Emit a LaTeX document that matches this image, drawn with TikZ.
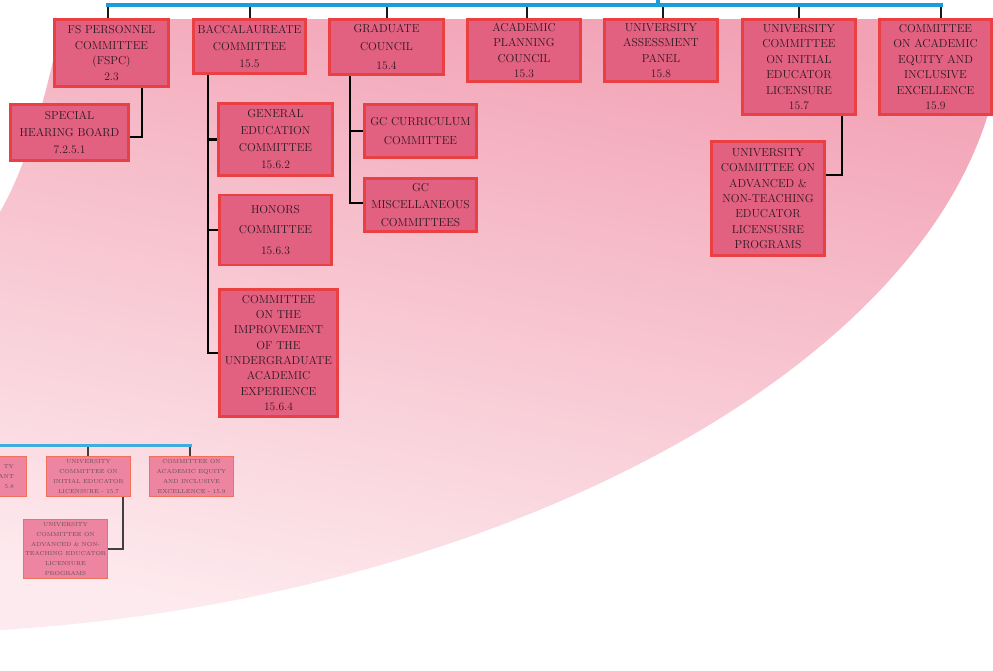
\documentclass[tikz,border=0pt]{standalone}
\usetikzlibrary{calc}

\definecolor{bgdark}{RGB}{242,162,181}
\definecolor{bgmid}{RGB}{245,174,191}
\definecolor{bglight}{RGB}{253,234,238}
\definecolor{boxfill}{RGB}{226,96,128}
\definecolor{boxedge}{RGB}{234,64,68}
\definecolor{boxtext}{RGB}{45,25,35}
\definecolor{busblue}{RGB}{28,157,215}
\definecolor{smallfill}{RGB}{237,132,160}
\definecolor{smalledge}{RGB}{240,112,92}
\definecolor{smalltext}{RGB}{105,78,88}

\begin{document}
\begin{tikzpicture}[x=1pt,y=-1pt,
  unit/.style={draw=boxedge, fill=boxfill, line width=2.6pt, inner sep=0pt,
    align=center, text=boxtext, font=\fontsize{11.5}{15.5}\selectfont},
  lead/.style={font=\fontsize{11.5}{#1}\selectfont},
  minor/.style={draw=smalledge, fill=smallfill, line width=1.6pt, inner sep=0pt,
    align=center, text=smalltext, font=\fontsize{5.8}{9.7}\selectfont,
    minimum width=84pt, minimum height=40pt},
  bus/.style={draw=busblue, line width=4pt, line cap=rect},
  minorbus/.style={draw=busblue!85, line width=3pt, line cap=rect},
  drop/.style={draw=black!90, line width=2pt},
  link/.style={draw=black, line width=2.4pt},
  minorlink/.style={draw=black!75, line width=1.6pt}]

\useasboundingbox (0,0) rectangle (993,670);
\clip (0,0) rectangle (993,670);

% pink backdrop sweeping down to the lower left
\shade[top color=bgdark, middle color=bgmid, bottom color=bglight, shading angle=-12]
  (1000,19) -- (1000,60)
  .. controls (960,360) and (500,600) .. (0,630)
  -- (0,212)
  .. controls (30,160) and (50,80) .. (62,19)
  -- cycle;

% first tier
\node[unit, minimum width=114pt, minimum height=67pt] (fs) at (111.5,53)
  {FS PERSONNEL\\COMMITTEE\\(FSPC)\\2.3};
\node[unit, lead=17, minimum width=112pt, minimum height=54pt] (bacc) at (249.5,46.5)
  {BACCALAUREATE\\COMMITTEE\\15.5};
\node[unit, lead=18.5, minimum width=114pt, minimum height=55pt] (grad) at (386.5,47)
  {GRADUATE\\COUNCIL\\15.4};
\node[unit, lead=15.3, minimum width=113pt, minimum height=62pt] (apc) at (524,50.5)
  {ACADEMIC\\PLANNING\\COUNCIL\\15.3};
\node[unit, lead=15.2, minimum width=113pt, minimum height=62pt] (uap) at (661,50.5)
  {UNIVERSITY\\ASSESSMENT\\PANEL\\15.8};
\node[unit, minimum width=113pt, minimum height=95pt] (uciel) at (799,67)
  {UNIVERSITY\\COMMITTEE\\ON INITIAL\\EDUCATOR\\LICENSURE\\15.7};
\node[unit, minimum width=112pt, minimum height=95pt] (caeie) at (935.5,67)
  {COMMITTEE\\ON ACADEMIC\\EQUITY AND\\INCLUSIVE\\EXCELLENCE\\15.9};

% second tier
\node[unit, lead=17, minimum width=118pt, minimum height=56pt] (shb) at (69.5,132.5)
  {SPECIAL\\HEARING BOARD\\7.2.5.1};
\node[unit, lead=17, minimum width=114pt, minimum height=72pt] (gened) at (275.5,139.5)
  {GENERAL\\EDUCATION\\COMMITTEE\\15.6.2};
\node[unit, lead=20.5, minimum width=112pt, minimum height=70pt] (honors) at (275.5,230)
  {HONORS\\COMMITTEE\\15.6.3};
\node[unit, lead=15.3, minimum width=118pt, minimum height=127pt] (ciuae) at (278.5,353)
  {COMMITTEE\\ON THE\\IMPROVEMENT\\OF THE\\UNDERGRADUATE\\ACADEMIC\\EXPERIENCE\\15.6.4};
\node[unit, lead=19, minimum width=112pt, minimum height=53pt] (gccur) at (420.5,131)
  {GC CURRICULUM\\COMMITTEE};
\node[unit, lead=17.5, minimum width=112pt, minimum height=53pt] (gcmisc) at (420.5,205)
  {GC\\MISCELLANEOUS\\COMMITTEES};
\node[unit, lead=15.3, minimum width=113pt, minimum height=114pt] (adv) at (768,198.5)
  {UNIVERSITY\\COMMITTEE ON\\ADVANCED \&\\NON-TEACHING\\EDUCATOR\\LICENSUSRE\\PROGRAMS};

% bus along the top
\coordinate (bus) at (0,5);
\coordinate (feed) at (658,0);
\foreach \n/\dx in {fs/-3.5, bacc/0, grad/0.5, apc/3, uap/2, uciel/0, caeie/5.5}
  \draw[drop] ([xshift=\dx pt]\n.north) -- ([xshift=\dx pt]\n.north |- bus);
\draw[bus] ([xshift=-3.5pt]fs.north |- bus) -- ([xshift=5.5pt]caeie.north |- bus);
\draw[bus] (feed) -- (feed |- bus);

% branches below the first tier
\draw[link] ([xshift=30.5pt]fs.south) |- ([yshift=-4.5pt]shb.east);
\draw[link] ([xshift=-41.5pt]bacc.south) coordinate (btrunk) |- (ciuae.west);
\draw[link] (btrunk |- gened.west) -- (gened.west);
\draw[link] (btrunk |- honors.west) -- (honors.west);
\draw[link] ([xshift=-36.5pt]grad.south) coordinate (gtrunk) |- ([yshift=2pt]gcmisc.west);
\draw[link] (gtrunk |- gccur.west) -- (gccur.west);
\draw[link] ([xshift=43pt]uciel.south) |- ([yshift=23.5pt]adv.east);

% reduced copy of the chart at the lower left
\node[minor, minimum width=71pt] (sap) at (-9,476.5) {};
\node[anchor=east, inner sep=0pt, align=right, text=smalltext,
  font=\fontsize{5.8}{9.7}\selectfont] (saptext) at (14,476.5) {TY\\ANT\\5.8};
\node[minor] (suc) at (88.5,476.5)
  {UNIVERSITY\\COMMITTEE ON\\INITIAL EDUCATOR\\LICENSURE - 15.7};
\node[minor] (sca) at (191.5,476.5)
  {COMMITTEE ON\\ACADEMIC EQUITY\\AND INCLUSIVE\\EXCELLENCE - 15.9};
\node[minor, minimum height=59pt] (sadv) at (65.5,549)
  {UNIVERSITY\\COMMITTEE ON\\ADVANCED \& NON-\\TEACHING EDUCATOR\\LICENSURE\\PROGRAMS};

\coordinate (bus2) at (-10,445);
\draw[minorlink] ([xshift=-0.5pt]suc.north) -- ([xshift=-0.5pt]suc.north |- bus2);
\draw[minorlink] ([xshift=-1.5pt]sca.north) -- ([xshift=-1.5pt]sca.north |- bus2);
\draw[minorbus] (bus2) -- ([xshift=-1.5pt]sca.north |- bus2);
\draw[minorlink] ([xshift=34.5pt]suc.south) |- (sadv.east);

\end{tikzpicture}
\end{document}
